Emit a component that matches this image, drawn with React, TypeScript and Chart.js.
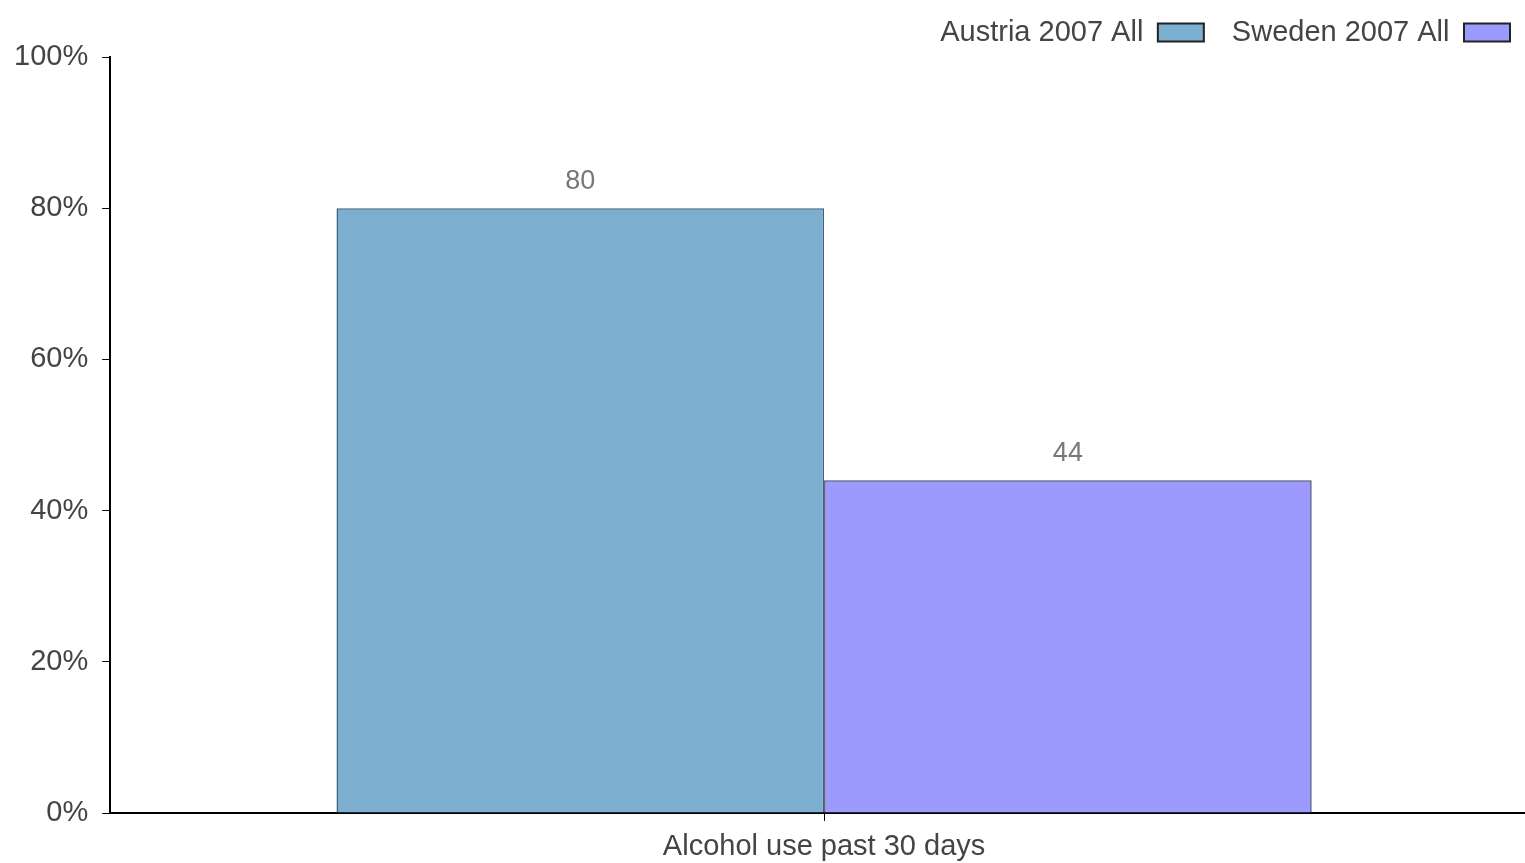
import React, { useEffect, useRef } from "react";
import { Chart, registerables } from "chart.js";

Chart.register(...registerables);

const categories = ["Alcohol use past 30 days"];
const seriesNames = ["Austria 2007 All", "Sweden 2007 All"];
const austriaValues = [80];
const swedenValues = [44];
const yTicks = [0, 20, 40, 60, 80, 100];

const FONT = "'Liberation Sans', Arial, sans-serif";

const valueLabelPlugin = {
  id: "valueLabels",
  afterDatasetsDraw(chart: any) {
    const ctx = chart.ctx;
    ctx.save();
    ctx.font = `27px ${FONT}`;
    ctx.fillStyle = "#777777";
    ctx.textAlign = "center";
    ctx.textBaseline = "middle";
    chart.data.datasets.forEach((ds: any, i: number) => {
      const meta = chart.getDatasetMeta(i);
      meta.data.forEach((el: any, j: number) => {
        ctx.fillText(String(ds.data[j]), el.x, el.y - 27);
      });
    });
    ctx.restore();
  },
};

export default function App() {
  const ref = useRef<HTMLCanvasElement>(null);
  useEffect(() => {
    if (!ref.current) return;
    const chart = new Chart(ref.current, {
      type: "bar",
      data: {
        labels: categories,
        datasets: [
          {
            label: seriesNames[0],
            data: austriaValues,
            backgroundColor: "#7caed0",
            borderColor: "#3f6078",
            borderWidth: 1.5,
            categoryPercentage: 0.683,
            barPercentage: 1.0,
          },
          {
            label: seriesNames[1],
            data: swedenValues,
            backgroundColor: "#9d9afe",
            borderColor: "#4a4a70",
            borderWidth: 1.5,
            categoryPercentage: 0.683,
            barPercentage: 1.0,
          },
        ],
      },
      options: {
        animation: false,
        responsive: true,
        maintainAspectRatio: false,
        layout: { padding: { left: 0, right: 2, top: -10, bottom: -9 } },
        plugins: {
          tooltip: { enabled: false },
          legend: {
            display: true,
            position: "top",
            align: "start",
            rtl: true,
            reverse: true,
            labels: {
              boxWidth: 46,
              boxHeight: 18,
              padding: 28,
              color: "#444444",
              font: { family: FONT, size: 29 },
              generateLabels: (chart: any) =>
                chart.data.datasets.map((ds: any, i: number) => ({
                  text: ds.label,
                  fillStyle: ds.backgroundColor,
                  strokeStyle: "#222222",
                  lineWidth: 2,
                  hidden: false,
                  datasetIndex: i,
                  fontColor: "#444444",
                })),
            },
          },
        },
        scales: {
          x: {
            type: "category",
            offset: true,
            grid: {
              offset: false,
              drawOnChartArea: false,
              drawTicks: true,
              tickLength: 8,
              color: "#000000",
            },
            border: { display: true, color: "#000000", width: 2 },
            ticks: {
              color: "#444444",
              font: { family: FONT, size: 29, lineHeight: 1.0 },
              padding: 11,
            },
          },
          y: {
            min: 0,
            max: 100,
            afterBuildTicks: (axis: any) => {
              axis.ticks = yTicks.map((v) => ({ value: v }));
            },
            grid: {
              drawOnChartArea: false,
              drawTicks: true,
              tickLength: 8,
              color: "#000000",
            },
            border: { display: true, color: "#000000", width: 2 },
            ticks: {
              color: "#444444",
              font: { family: FONT, size: 29 },
              padding: 14,
              callback: (v: any) => `${v}%`,
            },
          },
        },
      },
      plugins: [valueLabelPlugin],
    });
    return () => chart.destroy();
  }, []);

  return (
    <div
      style={{
        position: "fixed",
        left: 0,
        top: 0,
        width: 1540,
        height: 863,
        background: "#ffffff",
      }}
    >
      <canvas ref={ref} />
    </div>
  );
}
